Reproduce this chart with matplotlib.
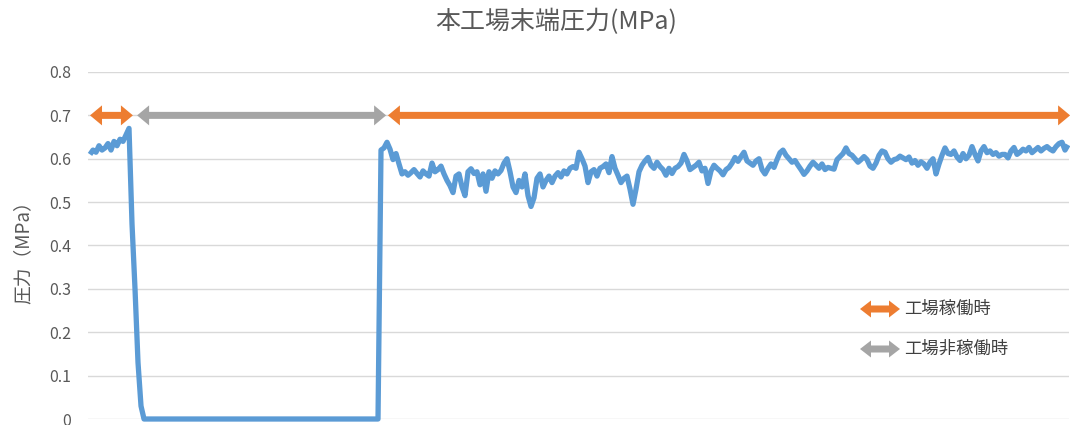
import numpy as np
import matplotlib
matplotlib.use("Agg")
import matplotlib.pyplot as plt
from matplotlib.patches import Polygon
from matplotlib.transforms import IdentityTransform

plt.rcParams['font.family'] = ['Noto Sans CJK JP', 'DejaVu Sans']

# 末端圧力 (MPa), sampled at a fixed interval
run_before = [0.61, 0.62, 0.615, 0.63, 0.62, 0.625, 0.635, 0.62, 0.64, 0.63,
              0.645, 0.64, 0.655]
shutdown = [0.67, 0.45, 0.30, 0.13, 0.03]
stopped = [0.0, 0.0, 0.0, 0.0, 0.0, 0.0, 0.0, 0.0, 0.0, 0.0,
           0.0, 0.0, 0.0, 0.0, 0.0, 0.0, 0.0, 0.0, 0.0, 0.0,
           0.0, 0.0, 0.0, 0.0, 0.0, 0.0, 0.0, 0.0, 0.0, 0.0,
           0.0, 0.0, 0.0, 0.0, 0.0, 0.0, 0.0, 0.0, 0.0, 0.0,
           0.0, 0.0, 0.0, 0.0, 0.0, 0.0, 0.0, 0.0, 0.0, 0.0,
           0.0, 0.0, 0.0, 0.0, 0.0, 0.0, 0.0, 0.0, 0.0, 0.0,
           0.0, 0.0, 0.0, 0.0, 0.0, 0.0, 0.0, 0.0, 0.0, 0.0,
           0.0, 0.0, 0.0, 0.0, 0.0, 0.0, 0.0, 0.0, 0.0]
run_after = [
    0.62,
    0.625, 0.638, 0.622, 0.598, 0.612, 0.588, 0.565, 0.57, 0.562, 0.568,
    0.575, 0.566, 0.558, 0.572, 0.565, 0.56, 0.59, 0.57, 0.575, 0.583,
    0.565, 0.55, 0.538, 0.522, 0.56, 0.565, 0.535, 0.515, 0.57, 0.577,
    0.566, 0.57, 0.54, 0.565, 0.525, 0.57, 0.555, 0.572, 0.565, 0.573,
    0.59, 0.60, 0.57, 0.535, 0.522, 0.55, 0.535, 0.565, 0.515, 0.49,
    0.51, 0.555, 0.565, 0.535, 0.55, 0.56,
    0.545, 0.56, 0.568, 0.558, 0.572, 0.565, 0.578, 0.582, 0.578, 0.615,
    0.60, 0.583, 0.545, 0.57, 0.575, 0.56, 0.578, 0.582, 0.588, 0.568,
    0.605, 0.578, 0.562, 0.545, 0.555, 0.56, 0.53, 0.495, 0.53, 0.57,
    0.585, 0.595, 0.603, 0.585, 0.578, 0.592, 0.582, 0.575, 0.562, 0.578,
    0.566, 0.578, 0.582, 0.59, 0.61, 0.595, 0.575, 0.58, 0.585, 0.592,
    0.572, 0.578, 0.543, 0.572, 0.585, 0.578, 0.572, 0.563,
    0.575, 0.58, 0.59, 0.603, 0.594, 0.605, 0.615, 0.595, 0.59, 0.585,
    0.595, 0.60, 0.575, 0.565, 0.578, 0.588, 0.58, 0.598, 0.614, 0.62,
    0.608, 0.60, 0.592, 0.596, 0.585, 0.575, 0.564, 0.572, 0.583, 0.592,
    0.585, 0.578, 0.588, 0.575, 0.58, 0.578, 0.576, 0.598, 0.605, 0.612,
    0.625, 0.612, 0.608, 0.60, 0.592, 0.598, 0.605, 0.598, 0.583, 0.578,
    0.59, 0.608, 0.618, 0.615, 0.60, 0.592, 0.598, 0.60,
    0.606, 0.602, 0.598, 0.604, 0.59, 0.596, 0.585, 0.593, 0.588, 0.578,
    0.592, 0.60, 0.565, 0.588, 0.608, 0.625, 0.612, 0.61, 0.618, 0.604,
    0.596, 0.612, 0.60, 0.608, 0.628, 0.61, 0.595, 0.618, 0.628, 0.614,
    0.618, 0.61, 0.614, 0.606, 0.61, 0.61, 0.602, 0.618, 0.626, 0.61,
    0.615, 0.622, 0.618, 0.626, 0.614, 0.62, 0.626, 0.618, 0.624, 0.628,
    0.622, 0.618, 0.628, 0.635, 0.638, 0.62, 0.632,
]
pressure = np.array(run_before + shutdown + stopped + run_after)
samples = np.arange(len(pressure))

# operating / non-operating periods (sample index)
run_periods = [(0.0, 14.3), (99.3, 326.7)]
stop_periods = [(15.7, 98.7)]

yticks = [0, 0.1, 0.2, 0.3, 0.4, 0.5, 0.6, 0.7, 0.8]

BLUE = '#5B9BD5'
ORANGE = '#ED7D31'
GRAY = '#A5A5A5'
TEXT = '#595959'

W, H = 1070, 425
fig = plt.figure(figsize=(W / 100, H / 100), dpi=100)
ax = fig.add_axes([88 / W, 1 - 419 / H, (1069 - 88) / W, (419 - 72) / H])

ax.plot(samples, pressure, color=BLUE, lw=3.8, solid_joinstyle='round',
        solid_capstyle='butt', clip_on=False, zorder=3)

ax.set_xlim(-0.67, len(pressure) - 0.67)
ax.set_ylim(0, 0.8)
ax.set_yticks(yticks)
ax.set_yticklabels(['{:g}'.format(t) for t in yticks])
ax.set_xticks([])
ax.tick_params(axis='y', length=0, pad=12, labelsize=11.5, labelcolor=TEXT)
for lab in ax.get_yticklabels():
    lab.set_verticalalignment('center_baseline')
ax.yaxis.grid(True, color='#D9D9D9', lw=1)
ax.set_axisbelow(True)
for s in ax.spines.values():
    s.set_visible(False)


def double_arrow(xl, xr, y, color, hl=12, hw=20, tw=7):
    # filled double-headed arrow, coordinates in display pixels
    pts = [(xl, y), (xl + hl, y + hw / 2), (xl + hl, y + tw / 2),
           (xr - hl, y + tw / 2), (xr - hl, y + hw / 2), (xr, y),
           (xr - hl, y - hw / 2), (xr - hl, y - tw / 2),
           (xl + hl, y - tw / 2), (xl + hl, y - hw / 2)]
    fig.add_artist(Polygon(pts, closed=True, facecolor=color, lw=0,
                           transform=IdentityTransform(), zorder=4))


def period_arrow(a, b, color):
    (xl, y), (xr, _) = ax.transData.transform([(a, 0.7), (b, 0.7)])
    double_arrow(xl, xr, y, color)


for a, b in run_periods:
    period_arrow(a, b, ORANGE)
for a, b in stop_periods:
    period_arrow(a, b, GRAY)

# legend
double_arrow(860, 900, H - 309, ORANGE, hl=11, hw=17)
double_arrow(860, 900, H - 349, GRAY, hl=11, hw=17)
fig.text(904 / W, 1 - 309 / H, '工場稼働時', fontsize=12.5, color='#404040',
         va='center', ha='left')
fig.text(904 / W, 1 - 349 / H, '工場非稼働時', fontsize=12.5, color='#404040',
         va='center', ha='left')

fig.text(556 / W, 1 - 22 / H, '本工場末端圧力(MPa)', fontsize=18, color=TEXT,
         ha='center', va='center')
fig.text(23 / W, 1 - 248 / H, '圧力（MPa）', fontsize=13.5, color=TEXT,
         rotation=90, ha='center', va='center')

fig.savefig('out.png', dpi=100)
